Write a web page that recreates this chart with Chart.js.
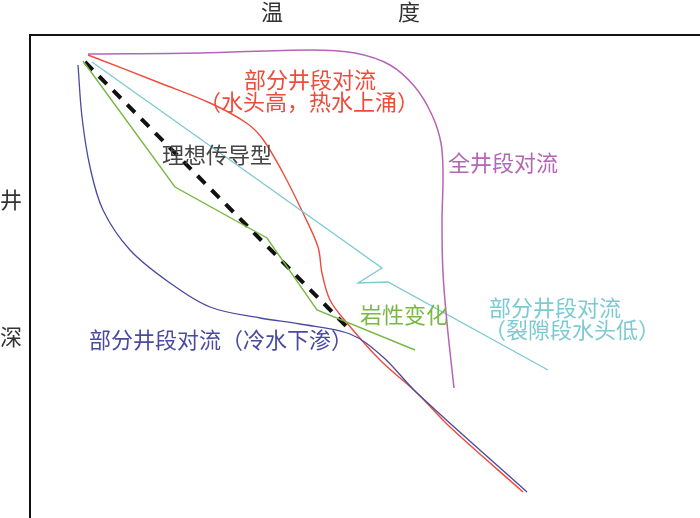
<!DOCTYPE html>
<html>
<head>
<meta charset="utf-8">
<script src="https://cdn.jsdelivr.net/npm/chart.js@4"></script>
<style>
  html, body { margin: 0; padding: 0; background: #fff; }
</style>
</head>
<body>
<canvas id="chart" width="700" height="518"></canvas>
<script>
// temperature (x) / depth (y) readings, schematic units
const wholeWellT = [58, 170, 280, 325, 360, 385, 402, 411, 413, 412, 413, 417, 424];
const wholeWellD = [19, 18, 15, 18, 30, 52, 80, 108, 138, 188, 238, 288, 353];

const upflowT = [58, 130, 180, 215, 232, 253, 273, 288, 292, 300, 317, 350, 387, 420, 493];
const upflowD = [20, 48, 68, 87, 103, 138, 178, 212, 238, 265, 288, 325, 358, 392, 457];

const downflowT = [48, 52, 60, 73, 100, 140, 180, 230, 270, 320, 353, 387, 497];
const downflowD = [30, 82, 132, 175, 215, 248, 272, 283, 289, 299, 322, 358, 457];

const lithoT = [53, 145, 237, 287, 385];
const lithoD = [26, 152, 203, 275, 315];

const idealT = [55, 322];
const idealD = [27, 297];

const fractureT = [62, 352, 328, 358, 518];
const fractureD = [27, 233, 248, 247, 335];

const labels = [
    { text: '温', t: 242, d: -23, color: '#333' },
    { text: '度', t: 379, d: -23, color: '#333' },
    { text: '井', t: -19, d: 165, color: '#333' },
    { text: '深', t: -19, d: 302, color: '#333' },
    { text: '部分井段对流', t: 280, d: 45, color: '#f04a3a' },
    { text: '（水头高，热水上涌）', t: 279, d: 67, color: '#f04a3a' },
    { text: '理想传导型', t: 187, d: 120, color: '#444' },
    { text: '全井段对流', t: 473, d: 128, color: '#b565b5' },
    { text: '岩性变化', t: 374, d: 280, color: '#78b843' },
    { text: '部分井段对流', t: 525, d: 273, color: '#7ccad2' },
    { text: '（裂隙段水头低）', t: 542, d: 295, color: '#7ccad2' },
    { text: '部分井段对流（冷水下渗）', t: 191, d: 305, color: '#4a4aa0' }
];

const toPoints = (ts, ds) => ts.map((t, i) => ({ x: t, y: ds[i] }));

const textPlugin = {
    id: 'textLabels',
    afterDatasetsDraw(chart) {
        const ctx = chart.ctx;
        const xs = chart.scales.x;
        const ys = chart.scales.y;
        ctx.save();
        ctx.font = '22px "Noto Sans CJK SC", sans-serif';
        ctx.textAlign = 'center';
        ctx.textBaseline = 'middle';
        for (const l of labels) {
            ctx.fillStyle = l.color;
            ctx.fillText(l.text, xs.getPixelForValue(l.t), ys.getPixelForValue(l.d));
        }
        ctx.restore();
    }
};

const line = (data, color, width, tension, dash) => ({
    data: data,
    borderColor: color,
    borderWidth: width,
    borderDash: dash || [],
    tension: tension,
    showLine: true,
    pointRadius: 0,
    fill: false
});

new Chart(document.getElementById('chart').getContext('2d'), {
    type: 'scatter',
    data: {
        datasets: [
            line(toPoints(wholeWellT, wholeWellD), '#b565b5', 1.5, 0.35),
            line(toPoints(fractureT, fractureD), '#7ccad2', 1.3, 0),
            line(toPoints(lithoT, lithoD), '#78b843', 1.4, 0),
            line(toPoints(downflowT, downflowD), '#4a4aa0', 1.3, 0.35),
            line(toPoints(upflowT, upflowD), '#f04a3a', 1.4, 0.35),
            line(toPoints(idealT, idealD), '#111', 4, 0, [11, 9])
        ]
    },
    options: {
        responsive: false,
        animation: false,
        layout: { padding: { left: 22, top: 27, right: 0, bottom: 0 } },
        plugins: {
            legend: { display: false },
            tooltip: { enabled: false }
        },
        scales: {
            x: {
                type: 'linear',
                position: 'top',
                min: 0,
                max: 670,
                ticks: { display: false },
                grid: { display: false },
                border: { display: true, color: '#111', width: 2 }
            },
            y: {
                type: 'linear',
                reverse: true,
                min: 0,
                max: 483,
                ticks: { display: false },
                grid: { display: false },
                border: { display: true, color: '#111', width: 2 }
            }
        }
    },
    plugins: [textPlugin]
});
</script>
</body>
</html>
